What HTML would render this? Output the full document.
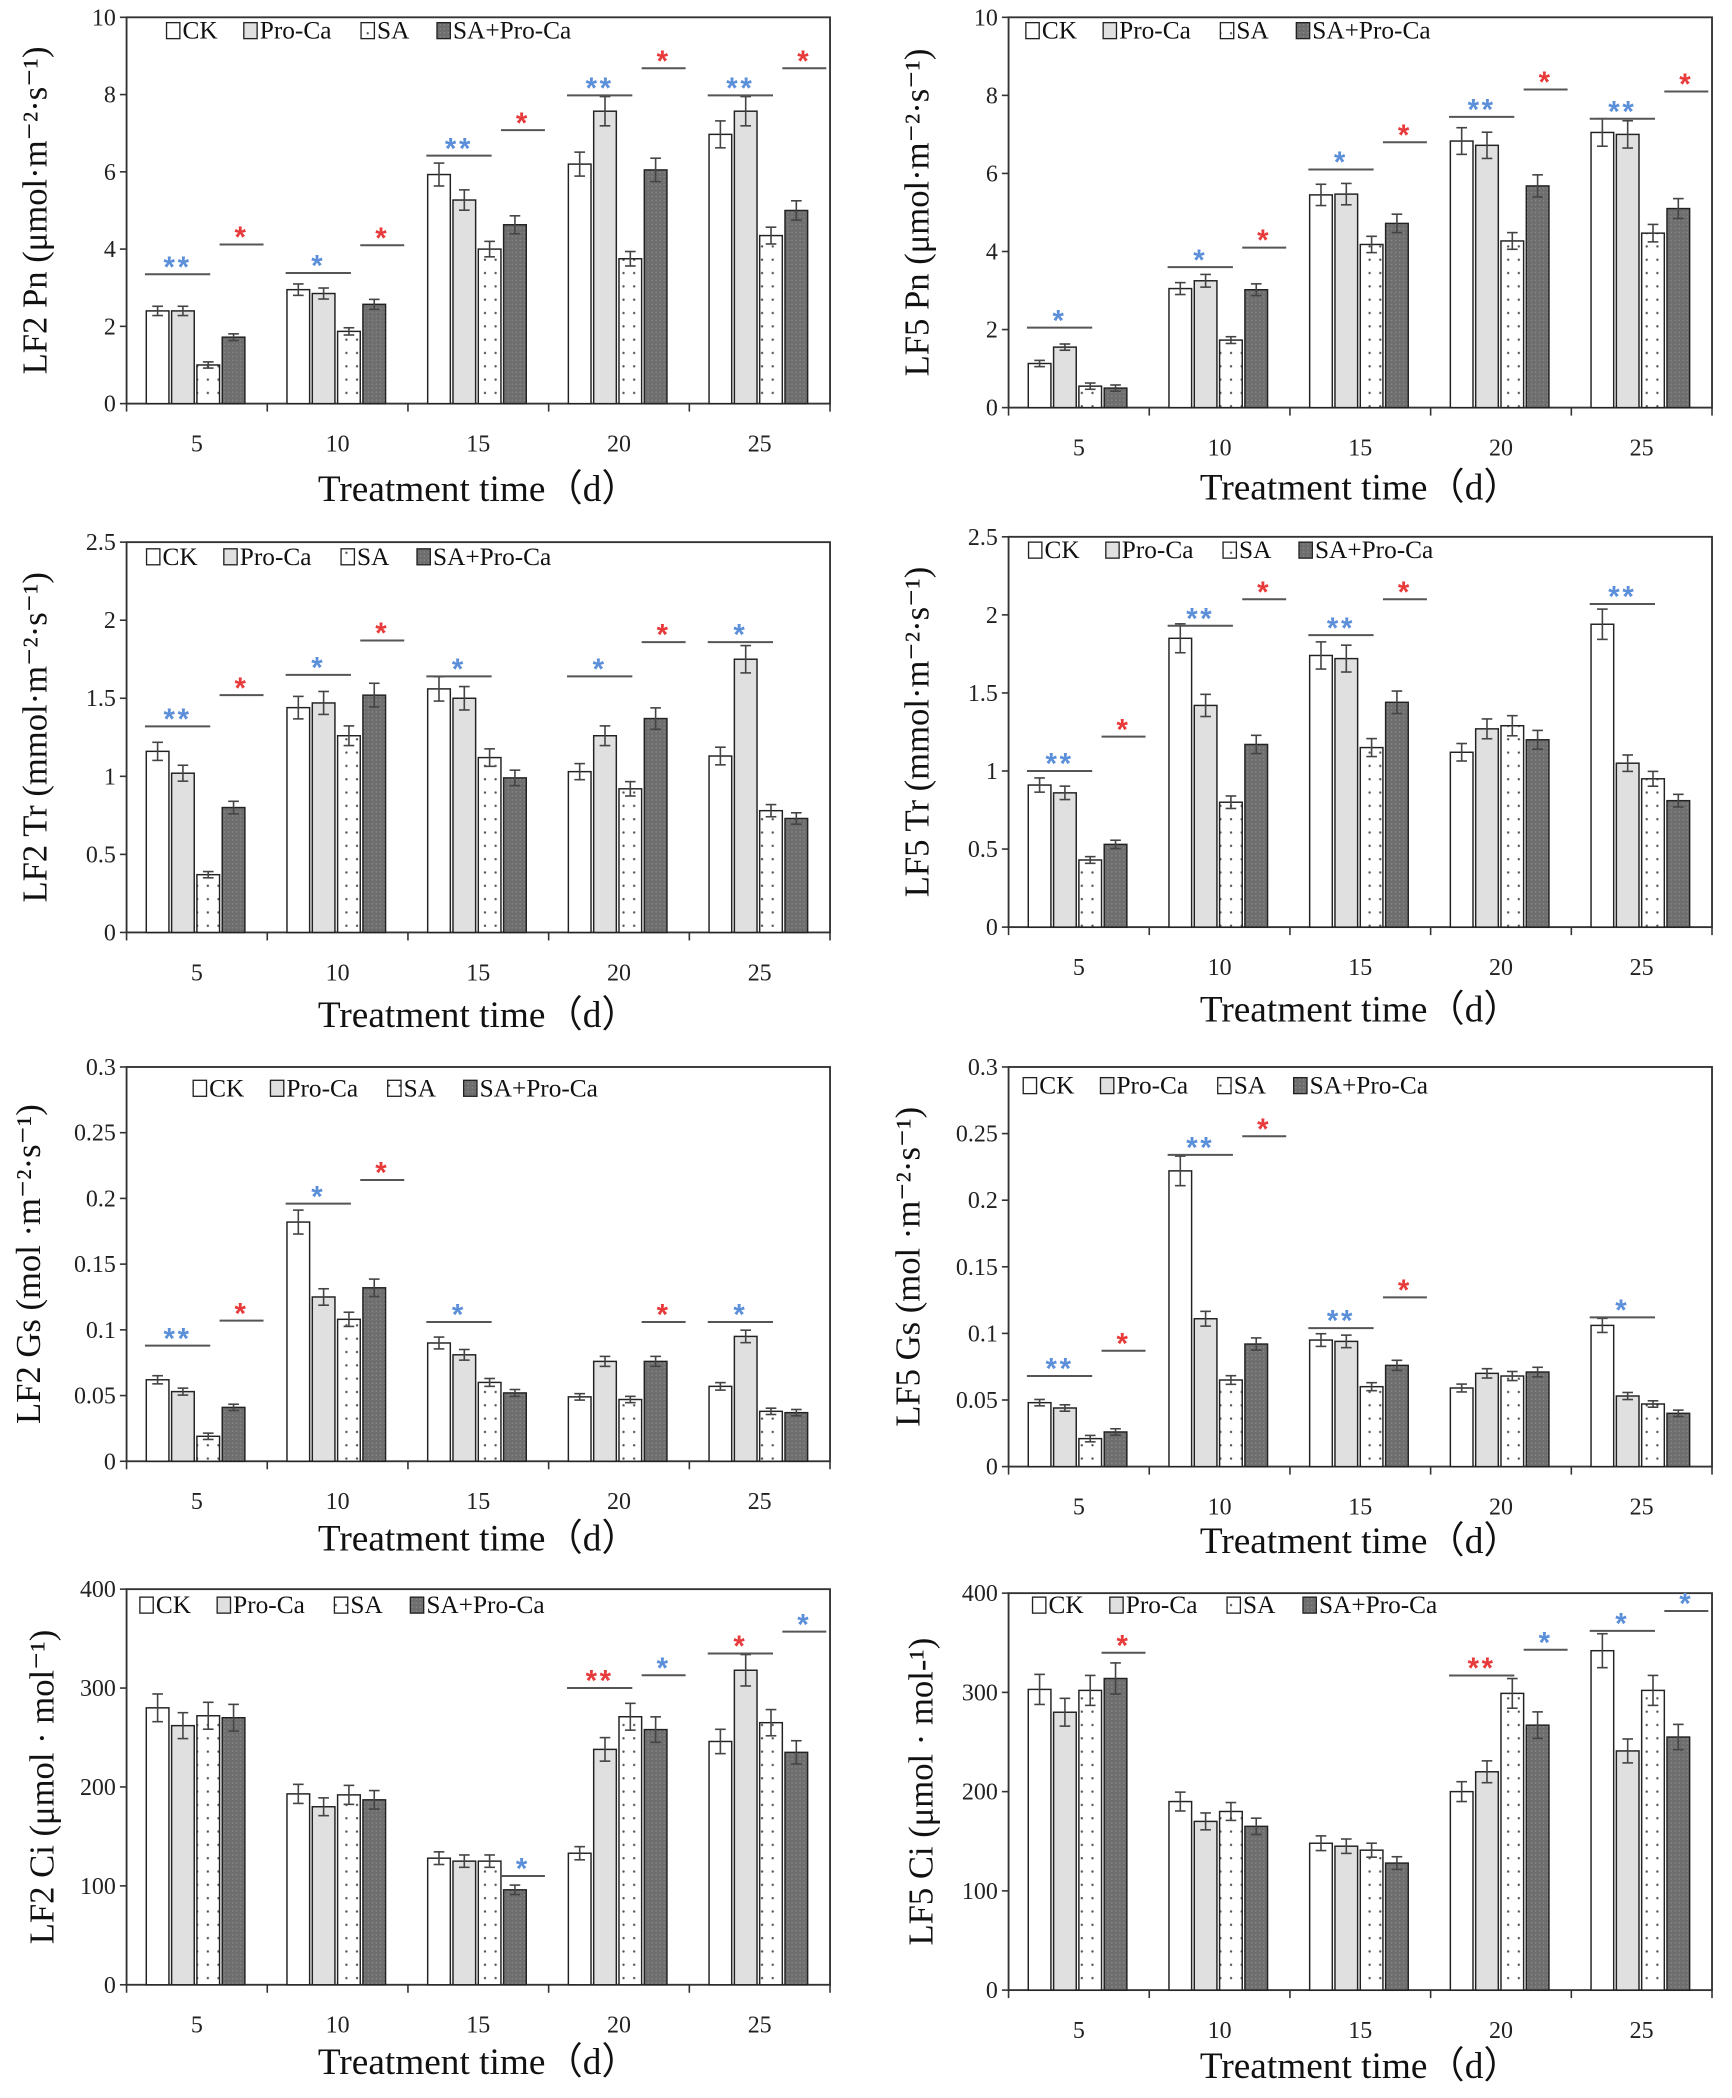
<!DOCTYPE html>
<html><head><meta charset="utf-8"><style>html,body{margin:0;padding:0;background:#fff}svg{display:block}</style></head>
<body>
<svg id="s" xmlns="http://www.w3.org/2000/svg" width="1732" height="2098" viewBox="0 0 1300 1575" preserveAspectRatio="none" font-family="'Liberation Serif', serif">
<defs>
<pattern id="dots" width="8" height="10" patternUnits="userSpaceOnUse"><rect width="8" height="10" fill="#fff"/><circle cx="4" cy="5" r="0.9" fill="#555"/></pattern>
<pattern id="grid" width="3" height="3" patternUnits="userSpaceOnUse"><rect width="3" height="3" fill="#6e6e6e"/><rect width="1" height="1" fill="#8a8a8a"/></pattern>
</defs>
</svg>
<script>
var S=document.getElementById('s'),NS='http://www.w3.org/2000/svg';
function el(t,a,txt){var e=document.createElementNS(NS,t);for(var k in a)e.setAttribute(k,a[k]);if(txt!=null)e.textContent=txt;S.appendChild(e);return e;}
var fills=['#fff','#e0e0e0','url(#dots)','url(#grid)'];
var B='#5b8fd9',R='#e83a3a';
var P=[
{l:95,r:623,t:13,b:303,max:10,step:2,fmt:0,yl:'LF2 Pn (μmol·m⁻²·s⁻¹)',ylx:35,lx:125,ly:28,tty:376,
d:[[2.4,2.4,1.0,1.72],[2.95,2.85,1.87,2.57],[5.93,5.27,4.0,4.63],[6.2,7.57,3.75,6.05],[6.97,7.57,4.35,5.0]],
s:[[0,'b',3.35,'**',B],[0,'r',4.12,'*',R],[1,'b',3.38,'*',B],[1,'r',4.1,'*',R],[2,'b',6.42,'**',B],[2,'r',7.08,'*',R],[3,'b',7.98,'**',B],[3,'r',8.68,'*',R],[4,'b',7.98,'**',B],[4,'r',8.68,'*',R]]},
{l:757,r:1285,t:13,b:306,max:10,step:2,fmt:0,yl:'LF5 Pn (μmol·m⁻²·s⁻¹)',ylx:697,lx:770,ly:28,tty:375,
d:[[1.13,1.55,0.55,0.5],[3.05,3.25,1.73,3.02],[5.45,5.47,4.18,4.72],[6.83,6.72,4.27,5.68],[7.05,7.0,4.47,5.1]],
s:[[0,'b',2.05,'*',B],[1,'b',3.6,'*',B],[1,'r',4.1,'*',R],[2,'b',6.1,'*',B],[2,'r',6.8,'*',R],[3,'b',7.45,'**',B],[3,'r',8.15,'*',R],[4,'b',7.4,'**',B],[4,'r',8.1,'*',R]]},
{l:95,r:623,t:407,b:700,max:2.5,step:0.5,fmt:1,yl:'LF2 Tr (mmol·m⁻²·s⁻¹)',ylx:35,lx:110,ly:423,tty:771,
d:[[1.16,1.02,0.37,0.8],[1.44,1.47,1.26,1.52],[1.56,1.5,1.12,0.99],[1.03,1.26,0.92,1.37],[1.13,1.75,0.78,0.73]],
s:[[0,'b',1.32,'**',B],[0,'r',1.52,'*',R],[1,'b',1.65,'*',B],[1,'r',1.87,'*',R],[2,'b',1.64,'*',B],[3,'b',1.64,'*',B],[3,'r',1.86,'*',R],[4,'b',1.86,'*',B]]},
{l:757,r:1285,t:403,b:696,max:2.5,step:0.5,fmt:1,yl:'LF5 Tr (mmol·m⁻²·s⁻¹)',ylx:697,lx:772,ly:418,tty:767,
d:[[0.91,0.86,0.43,0.53],[1.85,1.42,0.8,1.17],[1.74,1.72,1.15,1.44],[1.12,1.27,1.29,1.2],[1.94,1.05,0.95,0.81]],
s:[[0,'b',1.0,'**',B],[0,'r',1.22,'*',R],[1,'b',1.93,'**',B],[1,'r',2.1,'*',R],[2,'b',1.87,'**',B],[2,'r',2.1,'*',R],[4,'b',2.07,'**',B]]},
{l:95,r:623,t:801,b:1097,max:0.3,step:0.05,fmt:2,yl:'LF2 Gs (mol ·m⁻²·s⁻¹)',ylx:30,lx:145,ly:822,tty:1164,
d:[[0.062,0.053,0.019,0.041],[0.182,0.125,0.108,0.132],[0.09,0.081,0.06,0.052],[0.049,0.076,0.047,0.076],[0.057,0.095,0.038,0.037]],
s:[[0,'b',0.088,'**',B],[0,'r',0.107,'*',R],[1,'b',0.196,'*',B],[1,'r',0.214,'*',R],[2,'b',0.106,'*',B],[3,'r',0.106,'*',R],[4,'b',0.106,'*',B]]},
{l:757,r:1285,t:801,b:1101,max:0.3,step:0.05,fmt:2,yl:'LF5 Gs (mol ·m⁻²·s⁻¹)',ylx:690,lx:768,ly:820,tty:1166,
d:[[0.048,0.044,0.021,0.026],[0.222,0.111,0.065,0.092],[0.095,0.094,0.06,0.076],[0.059,0.07,0.068,0.071],[0.106,0.053,0.047,0.04]],
s:[[0,'b',0.068,'**',B],[0,'r',0.087,'*',R],[1,'b',0.234,'**',B],[1,'r',0.248,'*',R],[2,'b',0.104,'**',B],[2,'r',0.127,'*',R],[4,'b',0.112,'*',B]]},
{l:95,r:623,t:1193,b:1490,max:400,step:100,fmt:0,yl:'LF2 Ci (μmol · mol⁻¹)',ylx:40,lx:105,ly:1210,tty:1557,
d:[[280,262,272,270],[193,180,192,187],[128,125,125,96],[133,238,271,258],[246,318,265,235]],
s:[[2,'r',110,'*',B],[3,'b',300,'**',R],[3,'r',313,'*',B],[4,'b',335,'*',R],[4,'r',357,'*',B]]},
{l:757,r:1285,t:1196,b:1494,max:400,step:100,fmt:0,yl:'LF5 Ci (μmol · mol-¹)',ylx:700,lx:775,ly:1210,tty:1560,
d:[[303,280,302,314],[190,170,180,165],[148,145,141,128],[200,220,299,267],[342,241,302,255]],
s:[[0,'r',340,'*',R],[3,'b',317,'**',R],[3,'r',343,'*',B],[4,'b',362,'*',B],[4,'r',382,'*',B]]}
];
P.forEach(function(p){
 var H=p.b-p.t,cw=(p.r-p.l)/5;
 function Y(v){return p.b-v/p.max*H;}
 el('rect',{x:p.l,y:p.t,width:p.r-p.l,height:H,fill:'none',stroke:'#333','stroke-width':1.4});
 for(var v=0;v<=p.max+1e-9;v+=p.step){var y=Y(v);
  el('line',{x1:p.l-5,x2:p.l,y1:y,y2:y,stroke:'#333','stroke-width':1.2});
  var lab=+v.toFixed(p.fmt)+'';
  el('text',{x:p.l-8,y:y+6,'text-anchor':'end','font-size':18,fill:'#222'},lab);}
 for(var i=0;i<=5;i++){var x=p.l+i*cw;el('line',{x1:x,x2:x,y1:p.b,y2:p.b+6,stroke:'#333','stroke-width':1.2});}
 ['5','10','15','20','25'].forEach(function(t,i){el('text',{x:p.l+(i+0.5)*cw,y:p.b+36,'text-anchor':'middle','font-size':18,fill:'#222'},t);});
 el('text',{x:(p.l+p.r)/2,y:p.tty,'text-anchor':'middle','font-size':28,fill:'#111'},'Treatment time（d）');
 var cy=(p.t+p.b)/2;
 el('text',{x:p.ylx,y:cy,'text-anchor':'middle','font-size':26,fill:'#111',transform:'rotate(-90 '+p.ylx+' '+cy+')'},p.yl);
 p.d.forEach(function(g,ci){
  var g0=p.l+ci*cw+cw/2-38;
  g.forEach(function(v,k){
   var x=g0+k*19,y=Y(v),e=Math.max(v*0.05,p.max*0.008);
   el('rect',{x:x,y:y,width:17,height:p.b-y,fill:fills[k],stroke:'#222','stroke-width':1.1});
   var y1=Y(v+e),y2=Y(v-e);
   el('line',{x1:x+8.5,x2:x+8.5,y1:y1,y2:y2,stroke:'#444','stroke-width':1.2});
   el('line',{x1:x+4.5,x2:x+12.5,y1:y1,y2:y1,stroke:'#444','stroke-width':1.2});
   el('line',{x1:x+4.5,x2:x+12.5,y1:y2,y2:y2,stroke:'#444','stroke-width':1.2});
  });
 });
 p.s.forEach(function(s){
  var g0=p.l+s[0]*cw+cw/2-38,x1,x2;
  if(s[1]=='b'){x1=g0-1;x2=g0+48;}else{x1=g0+55;x2=g0+88;}
  var y=Y(s[2]);
  el('line',{x1:x1,x2:x2,y1:y,y2:y,stroke:'#555','stroke-width':1.5});
  el('text',{x:(x1+x2)/2,y:y+2,'text-anchor':'middle','font-size':22,'font-weight':'bold',fill:s[4],'font-family':"'Liberation Sans', sans-serif",'letter-spacing':2},s[3]);
 });
 var names=['CK','Pro-Ca','SA','SA+Pro-Ca'],off=[0,58,146,203];
 names.forEach(function(n,k){var x=p.lx+off[k];
  el('rect',{x:x,y:p.ly-11,width:10,height:12,fill:fills[k],stroke:'#222','stroke-width':1});
  el('text',{x:x+12,y:p.ly+1,'font-size':19,fill:'#111'},n);});
});
</script>
</body></html>
